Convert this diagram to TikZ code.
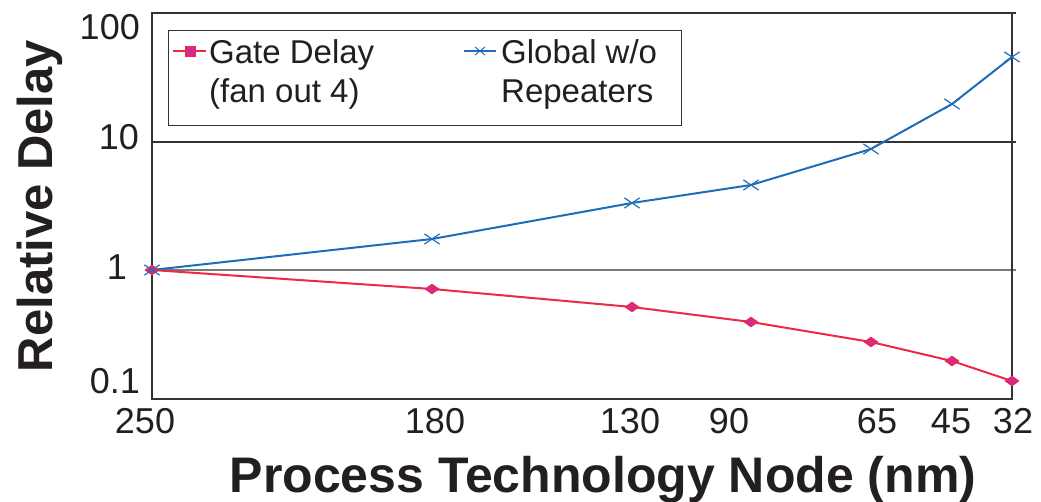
\documentclass[tikz,border=0pt]{standalone}
\usepackage{fontspec}
\setmainfont{Liberation Sans}
\usetikzlibrary{shapes.geometric,shapes.misc}
\definecolor{gred}{HTML}{EC2A46}
\definecolor{gmag}{HTML}{D62A85}
\definecolor{gblue}{HTML}{1F6DBA}
\definecolor{framec}{HTML}{333333}
\definecolor{gridc}{HTML}{7A7A7A}
\definecolor{textc}{HTML}{231F20}
\begin{document}
\begin{tikzpicture}[x=1pt,y=-1pt,
  ticklab/.style={font=\fontsize{36}{40}\selectfont, inner sep=0pt, text=textc},
  leg/.style={font=\fontsize{33}{38}\selectfont, inner sep=0pt, anchor=base west, text=textc},
  axtitle/.style={font=\fontsize{49}{54}\selectfont\bfseries, inner sep=0pt, text=textc},
  redline/.style={draw=gred, line width=2pt},
  blueline/.style={draw=gblue, line width=2pt},
  rmark/.style={diamond, draw=gred, fill=gmag, line width=0.8pt, minimum width=14pt, minimum height=10pt, inner sep=0pt},
  bmark/.style={cross out, draw=gblue, line width=1.2pt, minimum width=14pt, minimum height=9pt, inner sep=0pt},
  framestyle/.style={draw=framec, line width=1.2pt},
]
\useasboundingbox (0,0) rectangle (1041,502);
\fill[white] (0,0) rectangle (1041,502);

% grid and frame
\coordinate (g100a) at (152,13);  \coordinate (g100b) at (1016,13);
\coordinate (g10a)  at (152,142); \coordinate (g10b)  at (1016,142);
\coordinate (g1a)   at (152,270); \coordinate (g1b)   at (1016,270);
\coordinate (fbl) at (152,399); \coordinate (fbr) at (1012,399);
\coordinate (ftr) at (1012,13);
\draw[framestyle] (g10a) -- (g10b);
\draw[draw=gridc, line width=1.2pt] (g1a) -- (g1b);
\draw[framestyle] (g100b) -- (g100a) -- (fbl) -- (fbr) -- (ftr);

% data points
\foreach \n/\x/\yr/\yb in {a/152/270/270, b/432/289/239, c/632/307/203, d/751/322/185, e/871/342/149, f/952/361/104, g/1012/381/57}{
  \coordinate (r\n) at (\x,\yr);
  \coordinate (b\n) at (\x,\yb);
}
\draw[redline] (ra) -- (rb) -- (rc) -- (rd) -- (re) -- (rf) -- (rg);
\draw[blueline] (ba) -- (bb) -- (bc) -- (bd) -- (be) -- (bf) -- (bg);
\foreach \n in {a,b,c,d,e,f,g}{ \node[rmark] (rm\n) at (r\n) {}; }
\foreach \n in {a,b,c,d,e,f,g}{ \node[bmark] (bm\n) at (b\n) {}; }

% legend
\node[draw=framec, line width=1pt, minimum width=513pt, minimum height=95pt, anchor=north west, inner sep=0pt] (legend) at (168,30) {};
\coordinate (lr1) at (173,51); \coordinate (lr2) at (206,51);
\draw[redline] (lr1) -- (lr2);
\node[rectangle, draw=gred, fill=gmag, line width=0.8pt, minimum size=10pt, inner sep=0pt] (lrm) at (190,51) {};
\coordinate (lb1) at (464,51); \coordinate (lb2) at (496,51);
\draw[blueline, line width=1.6pt] (lb1) -- (lb2);
\node[cross out, draw=gblue, line width=1pt, minimum width=9pt, minimum height=7pt, inner sep=0pt] (lbm) at (480,51) {};
\node[leg] (lt1) at (209,64) {Gate Delay};
\node[leg] (lt2) at (209,103) {(fan out 4)};
\node[leg] (lt3) at (501,64) {Global w/o};
\node[leg] (lt4) at (501,103) {Repeaters};

% y tick labels
\node[ticklab, anchor=base east] (y100) at (140,40) {100};
\node[ticklab, anchor=base east] (y10) at (139,150) {10};
\node[ticklab, anchor=base east] (y1) at (127,280) {1};
\node[ticklab, anchor=base east] (y01) at (140,393) {0.1};

% x tick labels
\node[ticklab, anchor=base] (x250) at (145,433) {250};
\node[ticklab, anchor=base] (x180) at (435,433) {180};
\node[ticklab, anchor=base] (x130) at (630,433) {130};
\node[ticklab, anchor=base] (x90) at (729,433) {90};
\node[ticklab, anchor=base] (x65) at (877,433) {65};
\node[ticklab, anchor=base] (x45) at (951,433) {45};
\node[ticklab, anchor=base] (x32) at (1013,433) {32};

% axis titles
\node[axtitle, rotate=90, anchor=base] (ytitle) at (52,206) {Relative Delay};
\node[axtitle, anchor=base, font=\fontsize{50}{54}\selectfont\bfseries] (xtitle) at (603,492) {Process Technology Node (nm)};
\end{tikzpicture}
\end{document}
